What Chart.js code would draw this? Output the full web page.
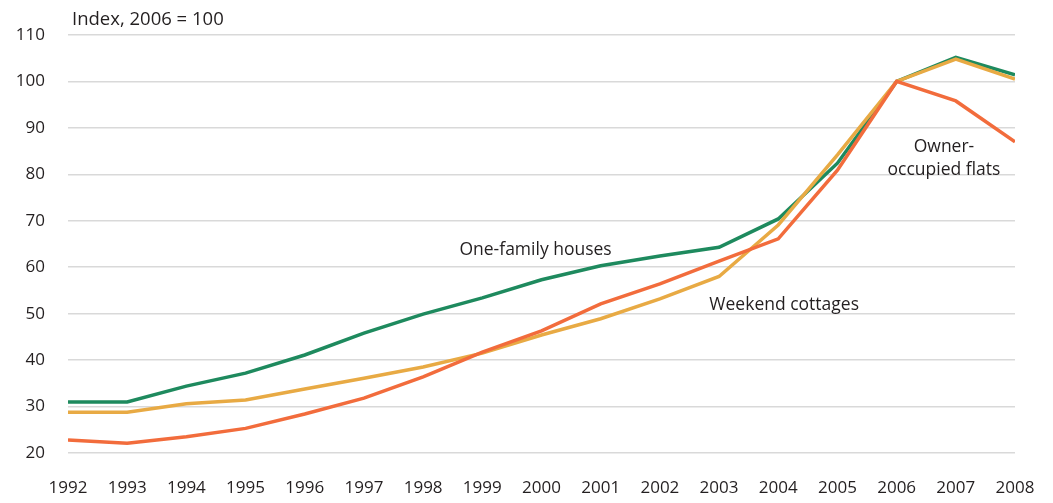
<!DOCTYPE html>
<html><head><meta charset="utf-8">
<script src="https://cdn.jsdelivr.net/npm/chart.js@4/dist/chart.umd.min.js"></script>
<style>html,body{margin:0;padding:0;background:#fff}#wrap{width:1053px;height:503px}</style>
</head><body><div id="wrap"><canvas id="c" width="1053" height="503"></canvas></div>
<script>
const years = [1992,1993,1994,1995,1996,1997,1998,1999,2000,2001,2002,2003,2004,2005,2006,2007,2008];
const oneFamily = [31.0,31.0,34.4,37.2,41.1,45.8,49.9,53.4,57.3,60.3,62.4,64.3,70.4,82.4,100,105.2,101.4];
const weekend = [28.8,28.8,30.6,31.4,33.8,36.1,38.5,41.5,45.4,48.9,53.2,58.0,69.1,84.2,100,104.8,100.5];
const flats = [22.8,22.1,23.5,25.3,28.4,31.8,36.4,41.7,46.3,52.1,56.4,61.3,66.1,80.9,100,95.8,87.0];
const yTicks = [20,30,40,50,60,70,80,90,100,110];
const unitLabel = 'Index, 2006 = 100';
const notes = [
  {text:['One-family houses'], x:1999.9, y:63.7},
  {text:['Weekend cottages'], x:2004.1, y:51.9},
  {text:['Owner-','occupied flats'], x:2006.8, y:83.5}
];
const FONT = '"Open Sans", sans-serif';
const TXT = '#231f20';
const pts = a => a.map((v,i)=>({x:years[i], y:v}));
const annot = {
  id:'annot',
  afterDatasetsDraw(chart){
    const {ctx, scales:{x,y}} = chart;
    ctx.save();
    ctx.fillStyle = TXT;
    ctx.font = '17.5px ' + FONT;
    ctx.textBaseline = 'middle';
    ctx.textAlign = 'center';
    notes.forEach(n=>{
      n.text.forEach((t,i)=>{
        ctx.fillText(t, x.getPixelForValue(n.x), y.getPixelForValue(n.y) + i*23 - (n.text.length-1)*11.5);
      });
    });
    ctx.textAlign = 'left';
    ctx.font = '18.5px ' + FONT;
    ctx.fillText(unitLabel, x.left + 4, y.getPixelForValue(110) - 15);
    ctx.restore();
  }
};
new Chart(document.getElementById('c'), {
  type:'line',
  data:{datasets:[
    {label:'Owner-occupied flats', data:pts(flats), borderColor:'#f26c3c', borderWidth:3.5, pointRadius:0, tension:0},
    {label:'Weekend cottages', data:pts(weekend), borderColor:'#e8aa44', borderWidth:3.5, pointRadius:0, tension:0},
    {label:'One-family houses', data:pts(oneFamily), borderColor:'#1e8a5e', borderWidth:3.5, pointRadius:0, tension:0}
  ]},
  options:{
    responsive:false, animation:false,
    layout:{padding:{top:35, right:38, left:0, bottom:0}},
    plugins:{legend:{display:false}, tooltip:{enabled:false}},
    scales:{
      x:{type:'linear', min:1992, max:2008,
        afterBuildTicks(ax){ax.ticks = years.map(v=>({value:v}));},
        afterFit(ax){ax.height = 50; ax.paddingLeft = 0; ax.paddingRight = 0;},
        grid:{display:false, drawTicks:false}, border:{display:false},
        ticks:{color:TXT, font:{family:FONT, size:17}, padding:25, maxRotation:0, autoSkip:false, callback:v=>String(v)}
      },
      y:{min:20, max:110,
        afterBuildTicks(ax){ax.ticks = yTicks.map(v=>({value:v}));},
        afterFit(ax){ax.width = 68;},
        grid:{color:'#d9d9d9', lineWidth:1.5, drawTicks:false}, border:{display:false},
        ticks:{color:TXT, font:{family:FONT, size:17}, padding:23}
      }
    }
  },
  plugins:[annot]
});
</script></body></html>
